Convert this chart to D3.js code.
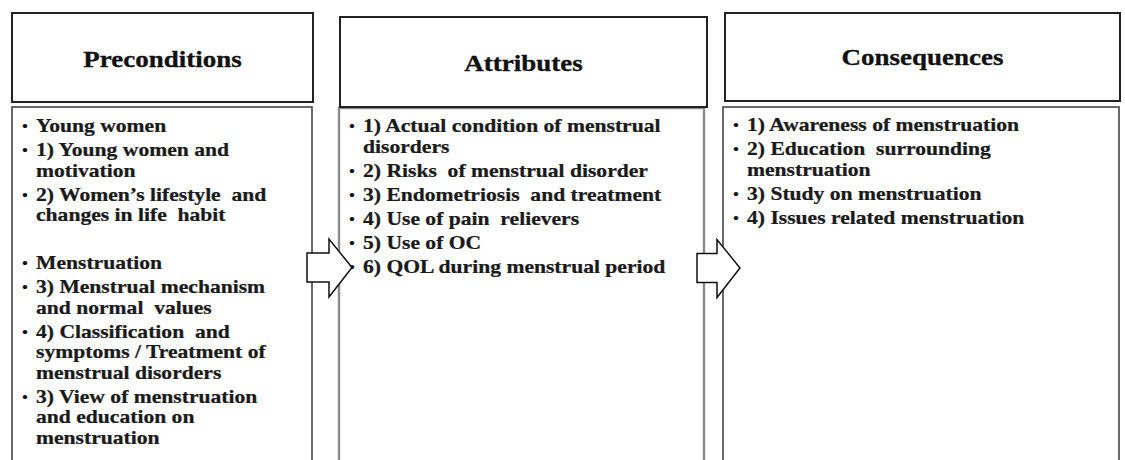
<!DOCTYPE html>
<html><head><meta charset="utf-8">
<script src="https://cdn.jsdelivr.net/npm/d3@7"></script>
<style>body{margin:0;background:#fff}svg{display:block}</style>
</head><body>
<script>
// ---- data ----
const categories = ["Preconditions", "Attributes", "Consequences"];
const preconditions = [
  ["Young women"],
  ["1) Young women and", "motivation"],
  ["2) Women\u2019s lifestyle  and", "changes in life  habit"],
  null,
  ["Menstruation"],
  ["3) Menstrual mechanism", "and normal  values"],
  ["4) Classification  and", "symptoms / Treatment of", "menstrual disorders"],
  ["3) View of menstruation", "and education on", "menstruation"]
];
const attributes = [
  ["1) Actual condition of menstrual", "disorders"],
  ["2) Risks  of menstrual disorder"],
  ["3) Endometriosis  and treatment"],
  ["4) Use of pain  relievers"],
  ["5) Use of OC"],
  ["6) QOL during menstrual period"]
];
const consequences = [
  ["1) Awareness of menstruation"],
  ["2) Education  surrounding", "menstruation"],
  ["3) Study on menstruation"],
  ["4) Issues related menstruation"]
];
const itemLists = [preconditions, attributes, consequences];

// ---- layout ----
const W = 1125, H = 460;
const cols = [
  {hx:12, hy:13, hw:301, hh:89, bx:12, by:107, bw:300, tb:67, first:132, bs:"#444", bsw:1.6},
  {hx:340, hy:17, hw:367, hh:90, bx:339, by:108, bw:365, tb:71, first:132, bs:"#8a8a8a", bsw:2.4},
  {hx:725, hy:13, hw:395, hh:88, bx:723, by:107, bw:396, tb:65, first:131, bs:"#444", bsw:1.6}
];
const SX = 1.2, lineStep = 20.5, itemStep = 24;
const font = "'Liberation Serif','Times New Roman',serif";

const svg = d3.select("body").append("svg").attr("width", W).attr("height", H);

const arrows = [
  {x0:307, x1:329, x2:352, yc:267.5},
  {x0:697, x1:717, x2:740, yc:268}
];
const arrowPath = a => {
  const p = d3.path();
  p.moveTo(a.x0, a.yc-14.5); p.lineTo(a.x1, a.yc-14.5); p.lineTo(a.x1, a.yc-28.5);
  p.lineTo(a.x2, a.yc); p.lineTo(a.x1, a.yc+29.5); p.lineTo(a.x1, a.yc+14.5);
  p.lineTo(a.x0, a.yc+14.5); p.closePath();
  return p.toString();
};

const g = svg.selectAll("g.col").data(categories).join("g").attr("class","col");

g.append("rect")
  .attr("x",(d,i)=>cols[i].bx).attr("y",(d,i)=>cols[i].by)
  .attr("width",(d,i)=>cols[i].bw).attr("height",(d,i)=>H+20-cols[i].by)
  .attr("fill","#fff").attr("stroke",(d,i)=>cols[i].bs).attr("stroke-width",(d,i)=>cols[i].bsw);
g.append("rect")
  .attr("x",(d,i)=>cols[i].hx).attr("y",(d,i)=>cols[i].hy)
  .attr("width",(d,i)=>cols[i].hw).attr("height",(d,i)=>cols[i].hh)
  .attr("fill","#fff").attr("stroke","#222").attr("stroke-width",2);

g.append("text")
  .attr("transform",(d,i)=>`translate(${cols[i].hx+cols[i].hw/2},${cols[i].tb}) scale(${SX},1)`)
  .attr("text-anchor","middle").attr("font-family",font).attr("font-weight","bold")
  .attr("font-size",22.5).attr("fill","#111").attr("stroke","#111").attr("stroke-width",0.3)
  .text(d=>d);

itemLists.forEach((items, ci) => {
  const c = cols[ci];
  let y = c.first;
  const lines = [];
  items.forEach((it) => {
    if (it === null) { y += itemStep; return; }
    it.forEach((t, j) => {
      lines.push({t, y, bullet: j === 0});
      if (j < it.length - 1) y += lineStep;
    });
    y += itemStep;
  });
  const bx = c.bx + 13, tx = c.bx + 24;
  svg.selectAll(null).data(lines.filter(l=>l.bullet)).join("text")
    .attr("transform", l=>`translate(${bx},${l.y-1}) scale(${SX},1)`)
    .attr("text-anchor","middle").attr("font-family",font).attr("font-weight","bold")
    .attr("font-size",14).attr("fill","#111").text("\u2022");
  svg.selectAll(null).data(lines).join("text")
    .attr("transform", l=>`translate(${tx},${l.y}) scale(${SX},1)`)
    .attr("font-family",font).attr("font-weight","bold").attr("font-size",18)
    .attr("fill","#1a1a1a").attr("stroke","#1a1a1a").attr("stroke-width",0.25)
    .style("white-space","pre")
    .text(l=>l.t);
});

svg.selectAll("path.arrow").data(arrows).join("path").attr("class","arrow")
  .attr("d", arrowPath).attr("fill","#fff").attr("stroke","#111").attr("stroke-width",1.5);
</script>
</body></html>
